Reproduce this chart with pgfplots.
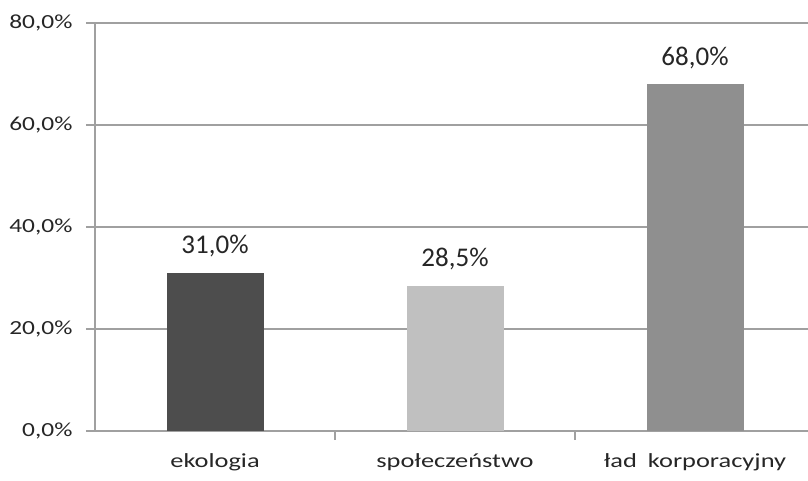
\documentclass[border=0pt]{standalone}
\usepackage{pgfplots}
\pgfplotsset{compat=1.18}
\usepackage{fontspec}
\setmainfont{Carlito}
\newfontfamily\widefont{Carlito}[FakeStretch=1.27]
\newfontfamily\widerfont{Carlito}[FakeStretch=1.32]
\definecolor{darkbar}{RGB}{77,77,77}
\definecolor{lightbar}{RGB}{192,192,192}
\definecolor{midbar}{RGB}{143,143,143}
\definecolor{gridc}{RGB}{160,160,160}
\begin{document}
\begin{tikzpicture}
\useasboundingbox (0,0) rectangle (808bp,481bp);
\begin{axis}[
  at={(95bp,50bp)}, anchor=south west,
  scale only axis, width=720bp, height=408bp,
  xmin=-0.5, xmax=2.5, ymin=0, ymax=80,
  axis x line=bottom, axis y line=left,
  axis line style={-, draw=gridc, line width=1.2bp},
  ymajorgrids, grid style={draw=gridc, line width=1.2bp},
  ytick={0,20,40,60,80},
  yticklabels={{0,0\%},{20,0\%},{40,0\%},{60,0\%},{80,0\%}},
  xtick={0.5,1.5},
  xticklabels={},
  extra x ticks={0,1,2},
  extra x tick labels={ekologia, społeczeństwo, ład\hspace{5bp} korporacyjny},
  extra x tick style={major tick length=0bp, grid=none, xticklabel style={yshift=-19bp, font=\widerfont\fontsize{20bp}{24bp}\selectfont}},
  major tick length=9bp,
  tick style={draw=gridc, line width=1.2bp},
  tick align=outside,
  tick label style={font=\widefont\fontsize{20bp}{24bp}\selectfont, text=black!85},
  yticklabel style={xshift=-10bp},
  /pgf/number format/assume math mode=true,
  ybar, bar width=97bp,
  every node near coord/.append style={font=\fontsize{27bp}{32bp}\selectfont, text=black!85, yshift=12bp},
  clip=false,
]
\addplot[bar shift=0bp, fill=darkbar, draw=none, nodes near coords={31,0\%}] coordinates {(0,31.0)};
\addplot[bar shift=0bp, fill=lightbar, draw=none, nodes near coords={28,5\%}] coordinates {(1,28.5)};
\addplot[bar shift=0bp, fill=midbar, draw=none, nodes near coords={68,0\%}] coordinates {(2,68.0)};
\end{axis}
\end{tikzpicture}
\end{document}
